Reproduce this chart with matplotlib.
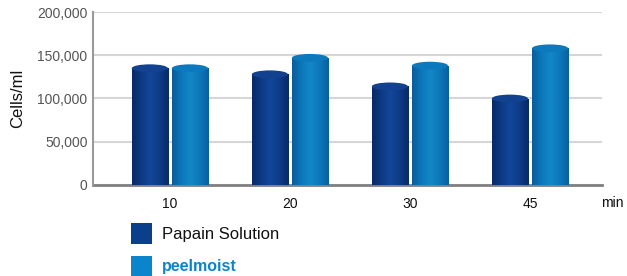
import numpy as np
import matplotlib
matplotlib.use("Agg")
import matplotlib.pyplot as plt
from matplotlib.patches import Rectangle, Ellipse
from matplotlib.colors import LinearSegmentedColormap
import matplotlib.transforms as mtransforms

# data
minutes = ["10", "20", "30", "45"]
papain = [135000, 128000, 114000, 100000]
peelmoist = [135000, 147000, 138000, 158000]
series_names = ["Papain Solution", "peelmoist"]
yticks = [0, 50000, 100000, 150000, 200000]

plt.rcParams['font.family'] = ['Liberation Sans', 'DejaVu Sans']

W, H = 627, 276
fig = plt.figure(figsize=(W / 100, H / 100), dpi=100)
ax = fig.add_axes([93 / W, 1 - 185 / H, (602 - 93) / W, (185 - 12) / H])

# cylinder shading (left dark -> highlight -> right dark)
dark_cmap = LinearSegmentedColormap.from_list(
    "dark", ["#082a66", "#0c3a84", "#14479a", "#0d3b86", "#072a68"])
light_cmap = LinearSegmentedColormap.from_list(
    "light", ["#0a5c9a", "#0b78bb", "#1487c8", "#0c78ba", "#09609f"])
top_colors = ["#12428f", "#0c79bc"]

bw = 0.3
off = 0.167
cap = 9000  # ellipse height in data units

x = np.arange(len(minutes))
grad = np.linspace(0, 1, 64).reshape(1, -1)

for vals, dx, cmap, topc in [(papain, -off, dark_cmap, top_colors[0]),
                             (peelmoist, off, light_cmap, top_colors[1])]:
    bars = ax.bar(x + dx, vals, width=bw, color="none", zorder=3)
    for b, v in zip(bars, vals):
        x0 = b.get_x()
        # body
        im = ax.imshow(grad, extent=[x0, x0 + bw, 0, v], aspect="auto",
                       cmap=cmap, zorder=3, interpolation="bilinear")
        im.set_clip_path(b)
        # rounded bottom
        eb = Ellipse((x0 + bw / 2, 0), bw, cap, facecolor="none",
                     edgecolor="none", zorder=3)
        ax.add_patch(eb)
        im2 = ax.imshow(grad, extent=[x0, x0 + bw, -cap, 0], aspect="auto",
                        cmap=cmap, zorder=3, interpolation="bilinear")
        im2.set_clip_path(eb)
        # top cap
        ax.add_patch(Ellipse((x0 + bw / 2, v), bw, cap, facecolor=topc,
                             edgecolor="none", zorder=4))

ax.set_xlim(-0.64, 3.6)
ax.set_ylim(0, 200000)
ax.set_xticks(x)
ax.set_xticklabels(minutes, fontsize=10, color="#111111")
ax.set_yticks(yticks)
ax.set_yticklabels([f"{v:,}" for v in yticks], fontsize=10, color="#555555")
ax.tick_params(axis="x", length=0, pad=9)
ax.tick_params(axis="y", length=0, pad=4)

ax.grid(axis="y", color="#d6d6d6", lw=1.5, zorder=0)
ax.set_axisbelow(True)
for s in ["top", "right"]:
    ax.spines[s].set_visible(False)
ax.spines["left"].set_color("#9a9a9a")
ax.spines["left"].set_linewidth(1.5)
ax.spines["bottom"].set_color("#808080")
ax.spines["bottom"].set_linewidth(2)
ax.spines["bottom"].set_zorder(2)

ax.set_ylabel("Cells/ml", fontsize=12, color="#111111")
ax.yaxis.set_label_coords(-0.133, 0.5)

# "min" unit label, same baseline as the tick labels
trans = mtransforms.blended_transform_factory(ax.transAxes,
                                              mtransforms.IdentityTransform())
ax.text(0.998, H - 203, "min", transform=trans, fontsize=10,
        va="center", color="#111111")

# legend
leg_colors = ["#0a3f8c", "#0a85cc"]
leg_text_colors = ["#111111", "#0a85cc"]
leg_weights = ["normal", "bold"]
leg_sizes = [12, 11.5]
for i, name in enumerate(series_names):
    top = 223 + i * 33
    fig.add_artist(Rectangle((131 / W, 1 - (top + 21) / H), 21 / W, 21 / H,
                             transform=fig.transFigure, facecolor=leg_colors[i],
                             edgecolor="none"))
    fig.text(162 / W, 1 - (top + 11) / H, name, fontsize=leg_sizes[i],
             color=leg_text_colors[i], weight=leg_weights[i], va="center")

fig.savefig("out.png", dpi=100)
